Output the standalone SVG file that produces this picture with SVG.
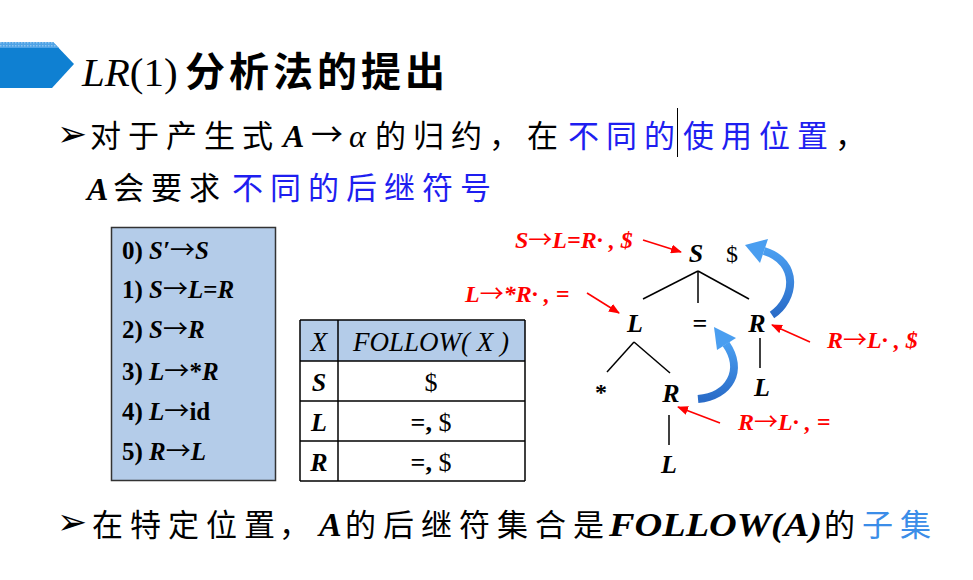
<svg xmlns="http://www.w3.org/2000/svg" width="973" height="580" viewBox="0 0 973 580">
<defs>
<style>
.cjk{font-family:"Noto Sans CJK SC",sans-serif;font-size:31px;letter-spacing:7px;fill:#000}
.title-cjk{font-family:"Noto Sans CJK SC",sans-serif;font-size:40px;font-weight:bold;letter-spacing:4px;fill:#000}
.ser{font-family:"Liberation Serif","Times New Roman",serif;fill:#000}
.bi{font-style:italic;font-weight:bold}
.it{font-style:italic}
.b{font-weight:bold}
.arr{font-family:"Noto Sans CJK SC",sans-serif;font-style:normal;font-weight:normal}
.blue{fill:#1E1EF0}
.lblue{fill:#3B8DE8}
.rule{font-family:"Liberation Serif","Times New Roman",serif;font-size:25px;font-weight:bold;fill:#000}
.red{font-family:"Liberation Serif","Times New Roman",serif;font-size:24px;font-weight:bold;font-style:italic;fill:#FF0000}
.node{font-family:"Liberation Serif","Times New Roman",serif;font-size:26px;font-weight:bold;font-style:italic;fill:#000}
.bullet{font-family:"DejaVu Sans",sans-serif;font-size:36px;fill:#000}
.tline{stroke:#000;stroke-width:1.5;fill:none}
.rline{stroke:#FF0000;stroke-width:1.6;fill:none;marker-end:url(#rh)}
.cell{stroke:#000;stroke-width:1.5}
</style>
<marker id="rh" markerWidth="11" markerHeight="9" refX="10" refY="4.5" orient="auto" markerUnits="userSpaceOnUse">
<path d="M0,0 L11,4.5 L0,9 Z" fill="#FF0000"/>
</marker>
<linearGradient id="bg1" x1="0" y1="1" x2="0" y2="0">
<stop offset="0" stop-color="#2A6CC8"/>
<stop offset="1" stop-color="#4A9EF0"/>
</linearGradient>
<pattern id="dots" width="3" height="3" patternUnits="userSpaceOnUse">
<rect width="3" height="3" fill="#4FA3E6"/>
<rect width="1.5" height="1.5" fill="#8CC4EF"/>
</pattern>
</defs>
<rect width="973" height="580" fill="#FFFFFF"/>

<g id="banner">
<polygon points="0,42 53,42 74,64 52,88 0,88" fill="#0F80D2"/>
<polygon points="0,42 53,42 59,48 0,48" fill="url(#dots)"/>
</g>

<g id="title">
<text x="82" y="86" class="ser" font-size="41"><tspan class="it">LR</tspan>(1)</text>
<text x="185" y="86" class="title-cjk">分析法的提出</text>
</g>

<g id="line1">
<text x="57" y="146" class="bullet">➢</text>
<text x="90" y="147" class="cjk">对于产生式</text>
<text x="283" y="147" class="ser bi" font-size="32">A</text>
<text x="311" y="146" class="arr" font-size="32">→</text>
<text x="349" y="147" class="ser it" font-size="32">α</text>
<text x="375" y="147" class="cjk">的归约，在</text>
<text x="568" y="147" class="cjk blue">不同的</text>
<line x1="677.5" y1="108" x2="677.5" y2="157" stroke="#000" stroke-width="1"/>
<text x="683" y="147" class="cjk blue">使用位置</text>
<text x="835" y="147" class="cjk">，</text>
</g>

<g id="line2">
<text x="87" y="200" class="ser bi" font-size="32">A</text>
<text x="113" y="199" class="cjk">会要求</text>
<text x="232" y="199" class="cjk blue" letter-spacing="6">不同的后继符号</text>
</g>

<g id="rules">
<rect x="111.5" y="227.5" width="164" height="253" fill="#B4CCE9" stroke="#333" stroke-width="1.5"/>
<text x="122" y="259" class="rule">0) <tspan class="it">S′</tspan><tspan class="arr">→</tspan><tspan class="it">S</tspan></text>
<text x="122" y="298" class="rule">1) <tspan class="it">S</tspan><tspan class="arr">→</tspan><tspan class="it">L</tspan>=<tspan class="it">R</tspan></text>
<text x="122" y="338" class="rule">2) <tspan class="it">S</tspan><tspan class="arr">→</tspan><tspan class="it">R</tspan></text>
<text x="122" y="380" class="rule">3) <tspan class="it">L</tspan><tspan class="arr">→</tspan>*<tspan class="it">R</tspan></text>
<text x="122" y="420" class="rule">4) <tspan class="it">L</tspan><tspan class="arr">→</tspan>id</text>
<text x="122" y="460" class="rule">5) <tspan class="it">R</tspan><tspan class="arr">→</tspan><tspan class="it">L</tspan></text>
</g>

<g id="follow-table">
<rect x="300" y="320" width="225" height="41" fill="#B4CCE9"/>
<line x1="300" y1="320" x2="525" y2="320" class="cell"/>
<line x1="300" y1="361" x2="525" y2="361" class="cell"/>
<line x1="300" y1="401" x2="525" y2="401" class="cell"/>
<line x1="300" y1="441" x2="525" y2="441" class="cell"/>
<line x1="300" y1="481" x2="525" y2="481" class="cell"/>
<line x1="300" y1="320" x2="300" y2="481" class="cell"/>
<line x1="338" y1="320" x2="338" y2="481" class="cell"/>
<line x1="525" y1="320" x2="525" y2="481" class="cell"/>
<text x="319" y="351" class="ser it" font-size="27" text-anchor="middle">X</text>
<text x="431" y="351" class="ser it" font-size="27" text-anchor="middle">FOLLOW( X )</text>
<text x="319" y="391" class="ser bi" font-size="26" text-anchor="middle">S</text>
<text x="431" y="391" class="ser" font-size="26" text-anchor="middle">$</text>
<text x="319" y="431" class="ser bi" font-size="26" text-anchor="middle">L</text>
<text x="431" y="431" class="ser" font-size="26" text-anchor="middle"><tspan class="b">=,</tspan>  $</text>
<text x="319" y="471" class="ser bi" font-size="26" text-anchor="middle">R</text>
<text x="431" y="471" class="ser" font-size="26" text-anchor="middle"><tspan class="b">=,</tspan>  $</text>
</g>

<g id="tree-S">
<text x="696" y="262" class="node" text-anchor="middle">S</text>
<text x="732" y="262" class="ser" font-size="24" text-anchor="middle">$</text>
</g>
<g id="tree-L">
<text x="635" y="332" class="node" text-anchor="middle">L</text>
</g>
<g id="tree-eq">
<text x="700" y="332" class="ser b" font-size="26" text-anchor="middle">=</text>
</g>
<g id="tree-R">
<text x="757" y="332" class="node" text-anchor="middle">R</text>
</g>
<g id="tree-star">
<text x="601" y="400" class="ser b" font-size="24" text-anchor="middle">*</text>
</g>
<g id="tree-R2">
<text x="671" y="402" class="node" text-anchor="middle">R</text>
</g>
<g id="tree-L2">
<text x="669" y="473" class="node" text-anchor="middle">L</text>
</g>
<g id="tree-L3">
<text x="762" y="396" class="node" text-anchor="middle">L</text>
</g>

<g id="label-1"><text x="515" y="248" class="red">S<tspan class="arr">→</tspan>L=R· , $</text></g>
<g id="label-2"><text x="465" y="302" class="red">L<tspan class="arr">→</tspan>*R· , =</text></g>
<g id="label-3"><text x="827" y="348" class="red">R<tspan class="arr">→</tspan>L· , $</text></g>
<g id="label-4"><text x="738" y="430" class="red">R<tspan class="arr">→</tspan>L· , =</text></g>

<g id="connectors">
<line x1="698" y1="271" x2="643" y2="299" class="tline"/>
<line x1="698" y1="271" x2="698" y2="303" class="tline"/>
<line x1="698" y1="271" x2="749" y2="299" class="tline"/>
<line x1="634" y1="342" x2="607" y2="372" class="tline"/>
<line x1="634" y1="342" x2="670" y2="373" class="tline"/>
<line x1="760" y1="338" x2="760" y2="368" class="tline"/>
<line x1="669" y1="415" x2="669" y2="445" class="tline"/>
<line x1="643" y1="240" x2="681" y2="252" class="rline"/>
<line x1="587" y1="293" x2="619" y2="313" class="rline"/>
<line x1="810" y1="342" x2="772" y2="325" class="rline"/>
<line x1="720" y1="423" x2="678" y2="407" class="rline"/>
<path d="M772,315 C795,300 800,262 764,251" fill="none" stroke="url(#bg1)" stroke-width="8"/>
<polygon points="768,239 760,263 745,245" fill="#4A9EF0"/>
<path d="M698,399 C730,396 744,370 726,344" fill="none" stroke="url(#bg1)" stroke-width="8"/>
<polygon points="736,338 717,350 714,327" fill="#4A9EF0"/>
</g>

<g id="line3">
<text x="57" y="534" class="bullet">➢</text>
<text x="92" y="536" class="cjk">在特定位置</text>
<text x="279" y="536" class="cjk" letter-spacing="0">，</text>
<text x="319" y="536" class="ser bi" font-size="34">A</text>
<text x="345" y="536" class="cjk" letter-spacing="6">的后继符集合是</text>
<text x="609" y="536" class="ser bi" font-size="34" textLength="213" lengthAdjust="spacingAndGlyphs">FOLLOW(A)</text>
<text x="824" y="536" class="cjk">的</text>
<text x="862" y="536" class="cjk lblue" letter-spacing="6">子集</text>
</g>
</svg>
